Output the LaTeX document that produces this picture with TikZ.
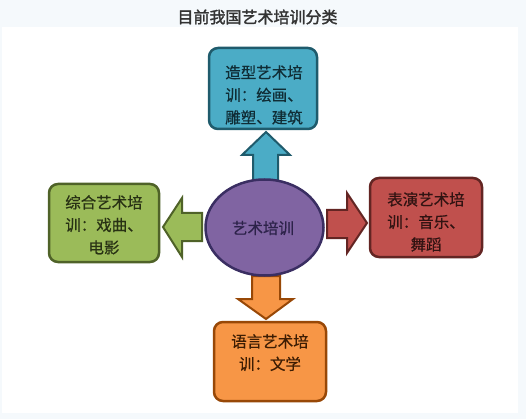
\documentclass[tikz,border=0pt]{standalone}
\usepackage{fontspec}
\usetikzlibrary{shapes.geometric}
\newfontfamily\cjk{Noto Sans CJK SC}[FakeBold=0.6]
\newfontfamily\cjkb{Noto Sans CJK SC}[FakeBold=1.8]
\definecolor{pagebg}{HTML}{F5F9FC}
\definecolor{bluefill}{HTML}{4BACC6}\definecolor{blueline}{HTML}{1F5B6C}
\definecolor{greenfill}{HTML}{9BBB59}\definecolor{greenline}{HTML}{4F6228}
\definecolor{redfill}{HTML}{C0504D}\definecolor{redline}{HTML}{632523}
\definecolor{orangefill}{HTML}{F79646}\definecolor{orangeline}{HTML}{984807}
\definecolor{purplefill}{HTML}{8064A2}\definecolor{purpleline}{HTML}{3A2E62}
\definecolor{titlecol}{HTML}{333333}
\begin{document}
\begin{tikzpicture}[x=1pt,y=-1pt,
  catbox/.style={rectangle, rounded corners=9pt, line width=2.5pt, inner sep=0pt},
  boxtext/.style={font=\cjk\fontsize{15.5}{22.5}\selectfont, align=center, inner sep=0pt, anchor=north},
  blockarrow/.style={line width=2pt, line join=miter}]
\useasboundingbox (0,0) rectangle (526,419);
\fill[pagebg] (0,0) rectangle (526,419);
\fill[white] (2,27) rectangle (518,413);
\node[font=\cjkb\fontsize{16}{18}\selectfont, text=titlecol] (title) at (257.5,17) {目前我国艺术培训分类};
% block arrows (drawn before the centre so it covers their ends)
\draw[blockarrow, fill=bluefill, draw=blueline] (266,132) -- (290,155) -- (278,155) -- (278,182) -- (253,182) -- (253,155) -- (242,155) -- cycle;
\draw[blockarrow, fill=greenfill, draw=greenline] (163,227) -- (182,198) -- (182,213) -- (202,213) -- (202,241) -- (182,241) -- (182,257) -- cycle;
\draw[blockarrow, fill=redfill, draw=redline] (367,223) -- (347,193) -- (347,210) -- (327,210) -- (327,238) -- (347,238) -- (347,253) -- cycle;
\draw[blockarrow, fill=orangefill, draw=orangeline] (266,319) -- (293,299) -- (280,299) -- (280,276) -- (252,276) -- (252,299) -- (238,299) -- cycle;
% centre
\node[ellipse, line width=2.5pt, fill=purplefill, draw=purpleline, minimum width=118pt, minimum height=96pt, inner sep=0pt] (centre) at (264.5,227.5) {};
\node[font=\cjk\fontsize{15.5}{18}\selectfont, text=purpleline!75!black] (centretext) at (263,228) {艺术培训};
% category boxes
\node[catbox, fill=bluefill, draw=blueline, minimum width=108pt, minimum height=81pt] (top) at (263,88.5) {};
\node[boxtext, text=blueline!50!black] (toptext) at (264,65) {造型艺术培\\训：绘画、\\雕塑、建筑};
\node[catbox, fill=greenfill, draw=greenline, minimum width=110pt, minimum height=78pt] (left) at (104,223) {};
\node[boxtext, text=greenline!50!black] (lefttext) at (104,195) {综合艺术培\\训：戏曲、\\电影};
\node[catbox, fill=redfill, draw=redline, minimum width=112pt, minimum height=79pt] (right) at (426,217.5) {};
\node[boxtext, text=redline!50!black] (righttext) at (426,192) {表演艺术培\\训：音乐、\\舞蹈};
\node[catbox, fill=orangefill, draw=orangeline, minimum width=112pt, minimum height=79pt] (bottom) at (270,361.5) {};
\node[boxtext, text=orangeline!40!black] (bottomtext) at (270,334) {语言艺术培\\训：文学};
\end{tikzpicture}
\end{document}
